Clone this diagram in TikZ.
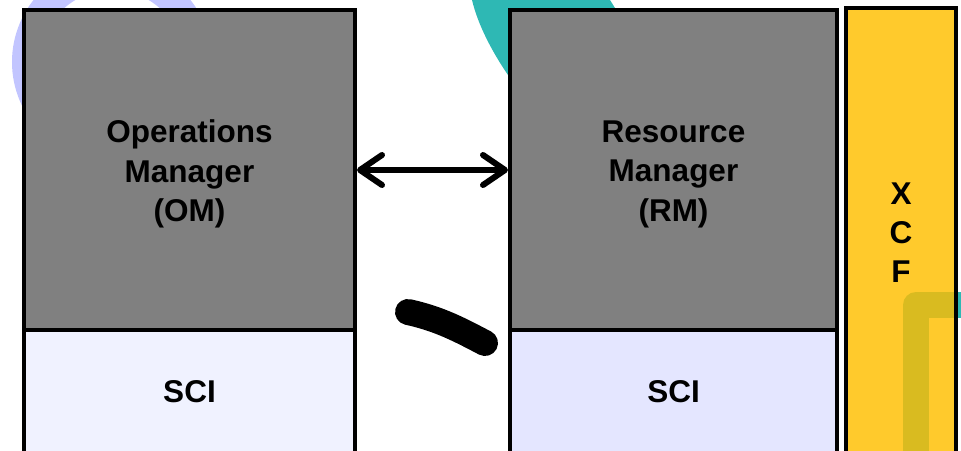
\documentclass[tikz,border=0pt]{standalone}
\usepackage{fontspec}
\setmainfont{Liberation Sans}
\usetikzlibrary{arrows.meta}
\definecolor{boxgray}{HTML}{808080}
\definecolor{scilight}{HTML}{F0F2FF}
\definecolor{scidark}{HTML}{E4E6FF}
\definecolor{xcfyellow}{HTML}{FFCA2C}
\definecolor{xcfshade}{HTML}{D9BB20}
\definecolor{ringblue}{HTML}{C2C5FF}
\definecolor{ringteal}{HTML}{2EB8B4}

\begin{document}
\begin{tikzpicture}[x=1pt,y=-1pt,
  box/.style={draw,line width=4pt,rectangle,inner sep=0pt,align=center,
    font=\fontsize{31.5}{39.5}\selectfont\bfseries},
  lbl/.style={align=center,font=\fontsize{31.5}{39.5}\selectfont\bfseries},
  mgr/.style={box,fill=boxgray,minimum height=320pt},
  sci/.style={box,minimum height=124pt},
  barb/.tip={Straight Barb[length=22pt,width=30pt,line cap=round,line join=round]}]
  \useasboundingbox (0,0) rectangle (961,450);
  \draw[ringblue,line width=28pt] (112,62) circle (86pt);
  \fill[ringteal] (472,0) .. controls (478,25) and (492,52) .. (510,78) -- (615,8) -- (610,0) -- cycle;

  \node[mgr,minimum width=331pt] (om) at (189.5,170) {};
  \node[lbl] (omlbl) at ([yshift=-4pt]om.center) {Operations\\Manager\\(OM)};
  \node[sci,fill=scilight,minimum width=331pt] (omsci) at (189.5,392) {SCI};
  \node[mgr,minimum width=327pt] (rm) at (673.5,170) {};
  \node[lbl] (rmlbl) at ([yshift=-4pt]rm.center) {Resource\\Manager\\(RM)};
  \node[sci,fill=scidark,minimum width=327pt] (rmsci) at (673.5,392) {SCI};
  \node[box,fill=xcfyellow,minimum width=110pt,minimum height=450pt,
    font=\fontsize{31.5}{39}\selectfont\bfseries] (xcf) at (901,233) {X\\C\\F};

  \draw[xcfshade,line width=26pt,line join=round] (916,460) -- (916,305) -- (954,305);
  \fill[ringteal] (958,292) rectangle (961,318);
  \draw[line width=26pt,line cap=round] (408,312) .. controls (440,319) and (460,330) .. (485,343);
  \draw[line width=6pt,barb-barb] (om.east) -- (rm.west);
\end{tikzpicture}
\end{document}
